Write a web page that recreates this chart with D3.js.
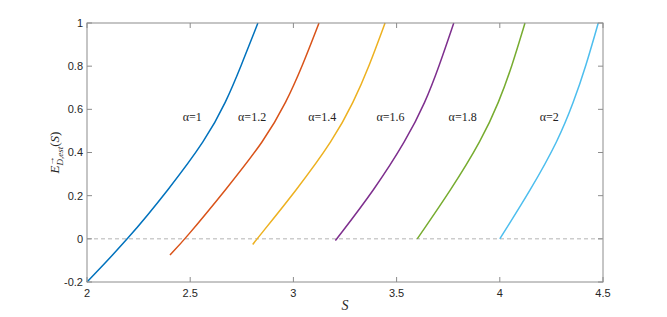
<!DOCTYPE html>
<html>
<head>
<meta charset="utf-8">
<script src="https://cdn.jsdelivr.net/npm/d3@7"></script>
<style>
  body { margin: 0; background: #fff; }
  svg { display: block; }
</style>
</head>
<body>
<svg width="667" height="317"></svg>
<script>
// @ Data
const alphas = ["1", "1.2", "1.4", "1.6", "1.8", "2"];
const colors = ["#0072BD", "#D95319", "#EDB120", "#7E2F8E", "#77AC30", "#4DBEEE"];

const sVals = [
	[2.0, 2.2, 2.394, 2.575, 2.674, 2.746, 2.828],
	[2.402, 2.476, 2.672, 2.862, 2.966, 3.043, 3.124],
	[2.803, 2.824, 3.016, 3.193, 3.292, 3.367, 3.444],
	[3.203, 3.21, 3.392, 3.547, 3.64, 3.706, 3.777],
	[3.6, 3.764, 3.912, 3.996, 4.059, 4.122],
	[4.0, 4.15, 4.284, 4.358, 4.417, 4.477],
];
const eVals = [
	[-0.2, 0, 0.227, 0.458, 0.634, 0.8, 1.0],
	[-0.075, 0, 0.227, 0.458, 0.634, 0.8, 1.0],
	[-0.026, 0, 0.227, 0.458, 0.634, 0.8, 1.0],
	[-0.008, 0, 0.227, 0.458, 0.634, 0.8, 1.0],
	[0, 0.227, 0.458, 0.634, 0.8, 1.0],
	[0, 0.227, 0.458, 0.634, 0.8, 1.0],
];
// label anchor position (data coords)
const labelS = [2.51, 2.8, 3.14, 3.47, 3.82, 4.24];
const labelE = 0.565;

const xTicks = [2, 2.5, 3, 3.5, 4, 4.5];
const yTicks = [-0.2, 0, 0.2, 0.4, 0.6, 0.8, 1];

// @ Layout
const mLeft = 87, mRight = 603, mTop = 23, mBottom = 282;
const x = d3.scaleLinear().domain([2, 4.5]).range([mLeft, mRight]);
const y = d3.scaleLinear().domain([-0.2, 1]).range([mBottom, mTop]);

const svg = d3.select("svg");
const tickFont = "'Liberation Sans', Arial, sans-serif";
const serif = "'Liberation Serif', 'Times New Roman', serif";
const axisColor = "#8c8c8c";

// zero reference line
svg.append("line")
	.attr("x1", mLeft).attr("x2", mRight)
	.attr("y1", y(0)).attr("y2", y(0))
	.attr("stroke", "#b3b3b3")
	.attr("stroke-width", 1)
	.attr("stroke-dasharray", "4,3");

// curves
const line = d3.line()
	.x((d) => x(d[0]))
	.y((d) => y(d[1]))
	.curve(d3.curveBasis);

const series = alphas.map((a, i) => ({
	alpha: a,
	color: colors[i],
	points: d3.zip(sVals[i], eVals[i]),
}));

svg.append("g")
	.selectAll("path")
	.data(series)
	.enter()
	.append("path")
	.attr("d", (d) => line(d.points))
	.attr("fill", "none")
	.attr("stroke", (d) => d.color)
	.attr("stroke-width", 1.5);

// alpha labels
svg.append("g")
	.selectAll("text")
	.data(series)
	.enter()
	.append("text")
	.attr("x", (d, i) => x(labelS[i]))
	.attr("y", y(labelE))
	.attr("dy", "0.35em")
	.attr("text-anchor", "middle")
	.style("font-family", serif)
	.style("font-size", "12px")
	.style("fill", "#222")
	.text((d) => `\u03b1=${d.alpha}`);

// @ Axes (box style, ticks inside)
const box = svg.append("g")
	.attr("fill", "none")
	.attr("stroke", axisColor)
	.attr("stroke-width", 1);
box.append("rect")
	.attr("x", mLeft).attr("y", mTop)
	.attr("width", mRight - mLeft).attr("height", mBottom - mTop);

const tickLen = 5;
xTicks.forEach((t) => {
	box.append("line").attr("x1", x(t)).attr("x2", x(t)).attr("y1", mBottom).attr("y2", mBottom - tickLen);
	box.append("line").attr("x1", x(t)).attr("x2", x(t)).attr("y1", mTop).attr("y2", mTop + tickLen);
});
yTicks.forEach((t) => {
	box.append("line").attr("x1", mLeft).attr("x2", mLeft + tickLen).attr("y1", y(t)).attr("y2", y(t));
	box.append("line").attr("x1", mRight).attr("x2", mRight - tickLen).attr("y1", y(t)).attr("y2", y(t));
});

svg.append("g")
	.selectAll("text")
	.data(xTicks)
	.enter()
	.append("text")
	.attr("x", (d) => x(d))
	.attr("y", mBottom + 15)
	.attr("text-anchor", "middle")
	.style("font-family", tickFont)
	.style("font-size", "11px")
	.style("fill", "#262626")
	.text((d) => d);

svg.append("g")
	.selectAll("text")
	.data(yTicks)
	.enter()
	.append("text")
	.attr("x", mLeft - 4)
	.attr("y", (d) => y(d))
	.attr("dy", "0.35em")
	.attr("text-anchor", "end")
	.style("font-family", tickFont)
	.style("font-size", "11px")
	.style("fill", "#262626")
	.text((d) => d);

// axis titles
svg.append("text")
	.attr("x", (mLeft + mRight) / 2)
	.attr("y", 310)
	.attr("text-anchor", "middle")
	.style("font-family", serif)
	.style("font-style", "italic")
	.style("font-size", "14px")
	.style("fill", "#262626")
	.text("S");

const yLab = svg.append("text")
	.attr("transform", `translate(59, ${(mTop + mBottom) / 2}) rotate(-90)`)
	.attr("text-anchor", "middle")
	.style("font-family", serif)
	.style("font-size", "13px")
	.style("fill", "#262626");
yLab.append("tspan").style("font-style", "italic").text("E");
yLab.append("tspan").attr("dy", -5).style("font-size", "9px").text("\u2192");
yLab.append("tspan").attr("dx", -9).attr("dy", 9).style("font-size", "9px").style("font-style", "italic").text("D,est");
yLab.append("tspan").attr("dy", -4).text("(");
yLab.append("tspan").style("font-style", "italic").text("S");
yLab.append("tspan").text(")");
</script>
</body>
</html>
